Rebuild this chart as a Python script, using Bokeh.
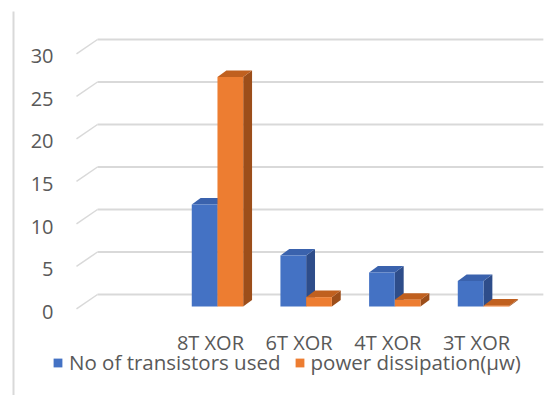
from bokeh.plotting import figure
from bokeh.models import (Range1d, Legend, LegendItem, BoxAnnotation,
                          ColumnDataSource)
from bokeh.core.properties import value
from bokeh.embed import file_html
from bokeh.resources import INLINE

# ---- data -------------------------------------------------------------
categories = ["8T XOR", "6T XOR", "4T XOR", "3T XOR"]
transistors = [12, 6, 4, 3]
power_uw = [27, 1.1, 0.8, 0.1]
series_names = ["No of transistors used", "power dissipation(\u00b5w)"]
y_ticks = [0, 5, 10, 15, 20, 25, 30]

# ---- style ------------------------------------------------------------
FONT = "Open Sans"
TEXT = "#595959"
GRID = "#d9d9d9"
BLUE = ("#4472C4", "#3A62AD", "#2E4D8A")      # front, top, side
ORANGE = ("#ED7D31", "#C0601F", "#9C4E1A")

BAR_W = 0.29      # width of one bar in category units
DX = 0.10         # bar depth, horizontal (category units)
DY = 0.77         # bar depth, vertical (value units)

# first slot on the floor is an empty category
xs = [i + 1 for i in range(len(categories))]

# the plotting frame covers the whole canvas; the floor front is y=0
p = figure(width=549, height=395, output_backend="svg", toolbar_location=None,
           x_range=Range1d(-1.447, 4.7445), y_range=Range1d(-10.47, 36.0),
           x_axis_location=None, y_axis_location=None,
           min_border=0, min_border_left=0, min_border_right=0,
           min_border_top=0, min_border_bottom=0)
p.outline_line_color = None
p.xgrid.visible = False
p.ygrid.visible = False
p.background_fill_color = "white"
p.border_fill_color = "white"

# back wall of the 3D box, and the plane the value labels sit on
p.extra_y_ranges = {"wall": Range1d(-11.882, 34.588),
                    "ylab": Range1d(-9.882, 36.588)}

# back-wall gridlines and the floor diagonals leading to them
WALL_LEFT, WALL_RIGHT, FLOOR_FRONT = -0.353, 4.675, -0.59
p.segment(x0=[WALL_LEFT] * len(y_ticks), x1=[WALL_RIGHT] * len(y_ticks),
          y0=y_ticks, y1=y_ticks, y_range_name="wall",
          line_color=GRID, line_width=2)
p.segment(x0=[FLOOR_FRONT] * len(y_ticks), x1=[WALL_LEFT] * len(y_ticks),
          y0=[v - 1.7 for v in y_ticks], y1=y_ticks, y_range_name="wall",
          line_color=GRID, line_width=1.5)


def draw_bars(lefts, values, colors):
    front, top, side = colors
    side_src = ColumnDataSource(dict(
        xs=[[l + BAR_W, l + BAR_W + DX, l + BAR_W + DX, l + BAR_W] for l in lefts],
        ys=[[0, DY, v + DY, v] for v in values]))
    top_src = ColumnDataSource(dict(
        xs=[[l, l + BAR_W, l + BAR_W + DX, l + DX] for l in lefts],
        ys=[[v, v, v + DY, v + DY] for v in values]))
    p.patches("xs", "ys", source=side_src, fill_color=side, line_color=None)
    p.patches("xs", "ys", source=top_src, fill_color=top, line_color=None)
    return p.vbar(x=[l + BAR_W / 2 for l in lefts], width=BAR_W, bottom=0,
                  top=values, fill_color=front, line_color=None)


r_blue = draw_bars([x - BAR_W for x in xs], transistors, BLUE)
r_orange = draw_bars(xs, power_uw, ORANGE)

# value labels along the left edge of the box
YLAB_X = -0.849
p.text(x=[YLAB_X] * len(y_ticks), y=y_ticks, text=[str(t) for t in y_ticks],
       y_range_name="ylab", text_align="right", text_baseline="middle",
       text_font=value(FONT), text_font_size="20px", text_color=TEXT)

# category labels along the floor front
XLAB_SHIFT, XLAB_Y = -0.079, -4.2
p.text(x=[x + XLAB_SHIFT for x in xs], y=[XLAB_Y] * len(xs), text=categories,
       text_align="center", text_baseline="middle",
       text_font=value(FONT), text_font_size="20px", text_color=TEXT)

legend = Legend(items=[LegendItem(label=series_names[0], renderers=[r_blue]),
                       LegendItem(label=series_names[1], renderers=[r_orange])],
                orientation="horizontal", location=(52, 19),
                glyph_width=11, glyph_height=11, label_standoff=6, spacing=13,
                padding=0, margin=0, border_line_color=None,
                background_fill_alpha=0,
                label_text_font=FONT, label_text_font_size="20.5px",
                label_text_color=TEXT)
p.add_layout(legend, "center")

# chart-area edge on the left
p.add_layout(BoxAnnotation(left=12, right=14, top=11, bottom=395,
                           left_units="canvas", right_units="canvas",
                           top_units="canvas", bottom_units="canvas",
                           fill_color=GRID, fill_alpha=1, line_color=None))

open("out.html", "w").write(file_html(p, INLINE))
